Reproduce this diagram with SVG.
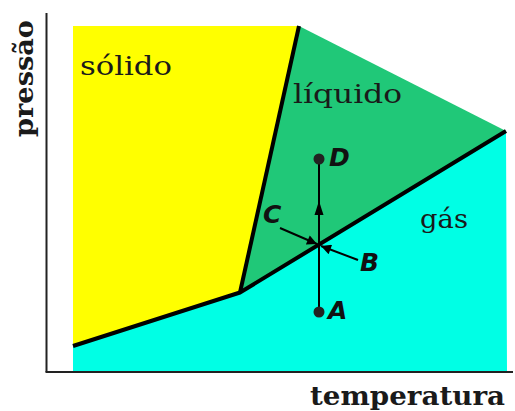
<svg xmlns="http://www.w3.org/2000/svg" width="515" height="411" viewBox="0 0 515 411">
<defs>
<style>
.reg{font-family:"DejaVu Serif","Liberation Serif",serif;font-size:26px;fill:#1a1a1a}
.ax{font-family:"DejaVu Serif","Liberation Serif",serif;font-size:26px;font-weight:bold;fill:#1a1a1a}
.pt{font-family:"DejaVu Sans","Liberation Sans",sans-serif;font-size:25px;font-weight:bold;font-style:italic;fill:#111}
.bd{fill:none;stroke:#000;stroke-width:4;stroke-linejoin:round}
.ar{fill:none;stroke:#000;stroke-width:2}
</style>
<marker id="ah" viewBox="0 0 10 10" refX="10" refY="5" markerWidth="6" markerHeight="5" orient="auto" markerUnits="strokeWidth"><path d="M0,0 L10,5 L0,10 z" fill="#000"/></marker>
</defs>
<g id="regions">
<polygon id="gas" points="73,346 240,292.5 506,131 507,371 73,371" fill="#00ffe5"/>
<polygon id="solido" points="73,26 299,26 240,292.5 73,346" fill="#ffff00"/>
<polygon id="liquido" points="299,26 506,131 240,292.5" fill="#20c878"/>
</g>
<g id="connectors">
<polyline class="bd" points="73,346 240,292.5 506,131"/>
<line class="bd" x1="240" y1="292.5" x2="299" y2="26"/>
<line x1="46.5" y1="13" x2="46.5" y2="372" stroke="#222" stroke-width="2"/>
<line x1="45.5" y1="372" x2="513" y2="372" stroke="#222" stroke-width="2"/>
<line class="ar" x1="319" y1="312" x2="319" y2="159"/>
<path d="M319,201 L314.5,215 L323.5,215 z" fill="#000"/>
<line class="ar" x1="280" y1="228" x2="317" y2="244" marker-end="url(#ah)"/>
<line class="ar" x1="358" y1="260" x2="321" y2="246" marker-end="url(#ah)"/>
<circle cx="319" cy="159" r="5.5" fill="#222"/>
<circle cx="319" cy="312" r="5.5" fill="#222"/>
</g>
<g id="labels">
<text class="reg" x="80" y="75" textLength="92" lengthAdjust="spacingAndGlyphs">sólido</text>
<text class="reg" x="293" y="103" textLength="109" lengthAdjust="spacingAndGlyphs">líquido</text>
<text class="reg" x="420" y="228" textLength="48" lengthAdjust="spacingAndGlyphs">gás</text>
<text class="ax" x="310" y="405" textLength="195" lengthAdjust="spacingAndGlyphs">temperatura</text>
<text class="ax" transform="translate(33,137) rotate(-90)" x="0" y="0" textLength="117" lengthAdjust="spacingAndGlyphs">pressão</text>
<text class="pt" x="329" y="166">D</text>
<text class="pt" x="263" y="223">C</text>
<text class="pt" x="360" y="271">B</text>
<text class="pt" x="328" y="319">A</text>
</g>
</svg>
